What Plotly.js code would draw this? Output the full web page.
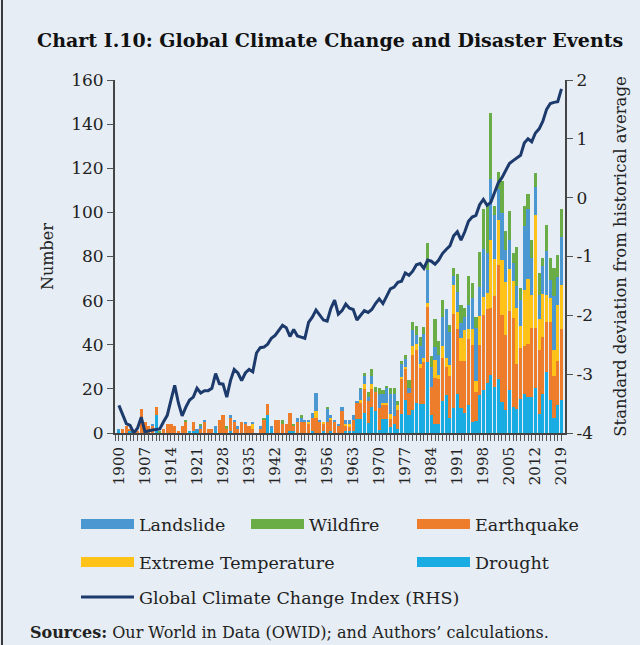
<!DOCTYPE html>
<html>
<head>
<meta charset="utf-8">
<script src="https://cdn.plot.ly/plotly-3.0.1.min.js"></script>
<style>
  html, body { margin: 0; padding: 0; background: #E6EDF4; }
  #chart { position: absolute; left: 0; top: 0; width: 640px; height: 645px; }
  #edge { position: absolute; left: 1px; top: 0; width: 2px; height: 645px; background: #3a3a3a; }
</style>
</head>
<body>
<div id="chart"></div>
<div id="edge"></div>
<script>
// Years 1900-2019
const years = [];
for (let y = 1900; y <= 2019; y++) years.push(y);

const tickYears = [1900, 1907, 1914, 1921, 1928, 1935, 1942, 1949, 1956, 1963, 1970, 1977, 1984, 1991, 1998, 2005, 2012, 2019];
const tickLabels = ["1900", "1907", "1914", "1921", "1928", "1935", "1942", "1949", "1956", "1963", "1970", "1977", "1984", "1991", "1998", "2005", "2012", "2019"];
const rhsTickVals = [-4, -3, -2, -1, 0, 1, 2];
const rhsTickText = ["-4", "-3", "-2", "-1", "0", "1", "2"];

const drought = [
  1,0,0,1,0,0,0,0,0,0,
  8,0,0,0,0,0,0,0,0,1,
  1,1,0,0,0,0,1,0,0,0,
  1,0,0,0,0,0,0,0,0,0,
  8,2,0,0,0,0,1,1,0,0,
  0,0,1,0,0,1,0,1,0,0,
  0,1,1,1,6.5,6.5,9,4.5,12,10,
  1.5,6.5,6.5,2.5,4,2,8.5,15,8,10.5,
  13.5,13,13,32,8,4,4,14.5,17,7,
  11.5,17.5,11.5,9,12.5,5,5.5,17,19.5,22.5,
  26.5,21,24.5,14,10.5,19.5,12,11,15.5,17.5,
  16.5,16.5,20.5,8.5,17.5,27.5,15,7,12.5,15
];
const earthquake = [
  0,2,3,1,1,1,11,5,3,3,
  4,0,2,4,4,3,1,3,5,0,
  4,0,2,5,2,2,0,6,8,2,
  6,5,2,5,4,3,2,0,2,6,
  5,0,6,6,4,4,8,2,5,5,
  5,4,6,7,5,3,5,5,5,3,
  10,2,1.5,5,7,7,11,10,8,8.5,
  10,6,6,4,3.5,8.5,16,14,10,25,
  24,16.5,19,25,13,21,20.5,19.5,13,19,
  42.5,29.5,21,23.5,30,35,13,23,34,33.5,
  30,41,51.5,39.5,34,36,40,20.5,23,22,
  24,31,27,29,26,23,35.5,19,20,32
];
const extremeTemp = [
  0,0,0,0,0,0,0,0,0,0,
  0,0,0,0,0,0,0,0,0,0,
  0,0,0,0,0,0,0,0,0,0,
  0,0,0,0,0,0,2,0,0,0,
  0,0,0,0,0,0,0,0,0,0,
  0,1,0,3,0,1,0,1,0,0,
  0,1,1.5,0,0,1.5,2,0,2,0,
  0,1,1,2,0,2,1,1,0,4,
  3,2,2,2,0,8,2,5.5,4,5,
  13,8,10.5,14,4.5,7,5,13,8,7.5,
  31,17,20.5,25,24,19,17,25,10,25.5,
  29.5,15,51.5,14,19.5,12,10.5,11.5,25.5,20
];
const landslide = [
  1,0,0,0,0,0,0,0,0,1,
  0,0,0,0,0,0,0,0,0,0,
  0,1,1,1,0,0,2,0,0,0,
  1,1,1,0,1,0,1,0,1,0,
  0,1,0,0,0,0,0,0,2,2,
  1,1,2,8,1,0,6,1,1,1,
  2,2,2,2,1,5,4,2,4,0,
  6,4,7,9,10,0,6,3.5,2.5,7,
  4,8,11,15,9,6,9,13,22,15,
  4,9,7,6,11,14,24,13,22,18,
  27.5,20,14,21,14.5,13,8,10,12,29,
  31.5,17,12.5,11,12.5,20,8.5,24.5,12.5,22
];
const wildfire = [
  0,0,0,0,0,0,0,0,0,0,
  0,1,0,0,0,0,0,0,1,0,
  0,0,1,0,0,0,0,0,0,1,
  0,0,0,0,0,0,0,0,0,1,
  0,0,0,0,2,0,0,1,0,1,
  0,0,0,0,0,0,1,0,0,0,
  0,0,0,0,0,0.5,1,2,3,2.5,
  3,2,1,3,3,2,1,2,3.5,4,
  4,4,3,12,5,12.5,6,8,0,3,
  4,8,8,4,13,7,5,16,18,21.5,
  30,4,8,14.5,8.5,13,4.5,18,5,9,
  7,8,6.5,10,4,12,10,13,10,12.5
];
const climateIndex = [
  -3.53,-3.70,-3.84,-3.87,-4.00,-3.92,-3.73,-3.98,-3.96,-3.95,
  -3.94,-3.93,-3.81,-3.70,-3.44,-3.19,-3.49,-3.71,-3.56,-3.44,
  -3.39,-3.24,-3.32,-3.28,-3.28,-3.24,-2.99,-3.16,-3.17,-3.39,
  -3.11,-2.92,-2.98,-3.11,-2.98,-2.92,-2.96,-2.64,-2.55,-2.54,
  -2.49,-2.39,-2.34,-2.25,-2.17,-2.21,-2.36,-2.24,-2.35,-2.37,
  -2.39,-2.12,-2.03,-1.91,-2.00,-2.08,-2.10,-1.88,-1.74,-1.98,
  -1.92,-1.81,-1.88,-1.90,-2.08,-2.00,-1.92,-1.95,-1.90,-1.80,
  -1.72,-1.80,-1.66,-1.55,-1.52,-1.44,-1.42,-1.28,-1.32,-1.25,
  -1.14,-1.12,-1.20,-1.06,-1.08,-1.13,-1.06,-0.95,-0.88,-0.82,
  -0.65,-0.58,-0.72,-0.58,-0.40,-0.33,-0.30,-0.12,-0.03,-0.13,
  -0.08,0.08,0.25,0.34,0.45,0.58,0.63,0.67,0.72,0.93,
  1.00,0.95,1.10,1.17,1.30,1.50,1.60,1.62,1.63,1.85
];

const colors = {
  landslide: '#4A97D2',
  wildfire: '#6AAD47',
  earthquake: '#EE7D2B',
  temp: '#FFC219',
  drought: '#19ACE3',
  line: '#1D3A6C'
};

const FONT = 'DejaVu Serif, serif';

function barTrace(name, vals, color) {
  return { type: 'bar', x: years, y: vals, name: name, marker: { color: color, line: { width: 0 } },
           showlegend: false, hoverinfo: 'skip' };
}
function legendTrace(name, color, legendId, width) {
  return { type: 'scatter', mode: 'lines', x: [null], y: [null], name: name,
           line: { color: color, width: width }, legend: legendId, showlegend: true, hoverinfo: 'skip' };
}

const traces = [
  barTrace('Drought', drought, colors.drought),
  barTrace('Earthquake', earthquake, colors.earthquake),
  barTrace('Extreme Temperature', extremeTemp, colors.temp),
  barTrace('Landslide', landslide, colors.landslide),
  barTrace('Wildfire', wildfire, colors.wildfire),
  { type: 'scatter', mode: 'lines', x: years, y: climateIndex, yaxis: 'y2', name: 'Global Climate Change Index (RHS)',
    line: { color: colors.line, width: 3 }, showlegend: false, hoverinfo: 'skip' },
  legendTrace('Landslide', colors.landslide, 'legend', 10),
  legendTrace('Wildfire', colors.wildfire, 'legend2', 10),
  legendTrace('Earthquake', colors.earthquake, 'legend3', 10),
  legendTrace('Extreme Temperature', colors.temp, 'legend4', 10),
  legendTrace('Drought', colors.drought, 'legend5', 10),
  legendTrace('Global Climate Change Index (RHS)', colors.line, 'legend6', 3)
];

function legendAt(px, py) {
  return {
    xref: 'container', yref: 'container', orientation: 'h',
    x: px / 640, xanchor: 'left', y: 1 - py / 645, yanchor: 'middle',
    bgcolor: 'rgba(0,0,0,0)', borderwidth: 0, itemwidth: 53,
    font: { family: FONT, size: 17.5, color: '#222' }, itemclick: false
  };
}

const layout = {
  width: 640, height: 645,
  paper_bgcolor: '#E6EDF4', plot_bgcolor: '#E6EDF4',
  margin: { l: 115, r: 75, t: 80, b: 212 },
  barmode: 'stack', bargap: 0.15,
  title: { text: '<b>Chart I.10: Global Climate Change and Disaster Events</b>', xref: 'container', yref: 'container',
           x: 0.058, xanchor: 'left', y: 0.938, yanchor: 'middle',
           font: { family: FONT, size: 19, color: '#111' } },
  xaxis: { type: 'linear', range: [1898.95, 2019.95], tickvals: tickYears, ticktext: tickLabels, tickangle: -90,
           ticks: 'outside', ticklen: 6, tickwidth: 1, tickcolor: '#555',
           minor: { tick0: 1900, dtick: 1, ticks: 'outside', ticklen: 6, tickwidth: 1, tickcolor: '#555', showgrid: false },
           showline: true, linecolor: '#444', linewidth: 2, showgrid: false, zeroline: false,
           tickfont: { family: FONT, size: 15, color: '#222' } },
  yaxis: { range: [0, 160], dtick: 20, ticks: 'outside', ticklen: 6, tickcolor: '#555',
           showline: true, linecolor: '#444', linewidth: 2, showgrid: false, zeroline: false,
           tickfont: { family: FONT, size: 17, color: '#222' },
           title: { text: 'Number', standoff: 14, font: { family: FONT, size: 16, color: '#222' } } },
  yaxis2: { overlaying: 'y', side: 'right', range: [-4, 2], tickvals: rhsTickVals, ticktext: rhsTickText,
            ticks: 'outside', ticklen: 6, tickcolor: '#555', showline: true, linecolor: '#444', linewidth: 2,
            showgrid: false, zeroline: false,
            tickfont: { family: FONT, size: 17, color: '#222' },
            title: { text: 'Standard deviation from historical average', standoff: 22,
                     font: { family: FONT, size: 16.5, color: '#222' } } },
  legend: legendAt(76, 524),
  legend2: legendAt(246, 524),
  legend3: legendAt(412, 524),
  legend4: legendAt(76, 562),
  legend5: legendAt(412, 562),
  legend6: legendAt(76, 597),
  annotations: [
    { xref: 'paper', yref: 'paper', x: (28 - 115) / 450, y: (433 - 632) / 353, xanchor: 'left', yanchor: 'middle',
      showarrow: false, text: '<b>Sources:</b> Our World in Data (OWID); and Authors’ calculations.',
      font: { family: FONT, size: 16, color: '#222' } }
  ]
};

Plotly.newPlot('chart', traces, layout, { displayModeBar: false, staticPlot: true });
</script>
</body>
</html>
